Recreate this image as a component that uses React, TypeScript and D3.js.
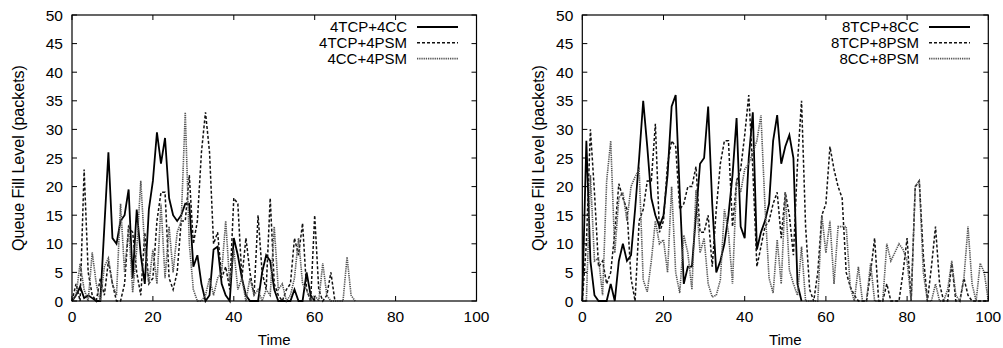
import React from 'react';
import * as d3 from 'd3';

const yTicks = [0, 5, 10, 15, 20, 25, 30, 35, 40, 45, 50];
const xTicks = [0, 20, 40, 60, 80, 100];
const yLabel = 'Queue Fill Level (packets)';
const xLabel = 'Time';

const leftNames = ['4TCP+4CC', '4TCP+4PSM', '4CC+4PSM'];
const rightNames = ['8TCP+8CC', '8TCP+8PSM', '8CC+8PSM'];

// one sample per time unit, starting at t = 0
const s4TcpCc = [0, 1, 2.5, 0.5, 1, 0.5, 0, 0, 13, 26, 11, 10, 14, 15, 19.5, 4, 16, 8, 3, 16, 21, 29.5, 24, 28.5, 18, 15, 14, 15, 17, 17, 6, 8, 3, 0, 1, 9, 9.5, 3, 1, 0, 11, 8, 4, 1, 0, 0, 0, 5, 8, 7, 2, 0, 0, 0, 0, 2, 0, 0, 5, 1, 0];
const s4TcpPsm = [0, 3, 0, 23, 5, 1, 0, 4, 1, 7, 3, 0, 0, 3, 13, 12, 5, 1, 12, 3, 4, 14, 19, 19, 4, 2, 5, 14, 14, 22, 10, 14, 26, 33, 26, 10, 12, 4, 6, 2, 18, 17, 4, 11, 5, 1, 15, 5, 2, 18, 3, 1, 0, 2, 3, 11, 8, 13.6, 2, 0, 15, 2, 0, 1, 5, 0];
const s4CcPsm = [0, 1, 6.5, 2, 0, 8.5, 3, 0, 6, 7.5, 3, 1, 17, 5, 13, 1.5, 9, 21, 9, 3, 9, 3, 17, 4, 13, 5, 12, 14, 33, 10, 2, 0, 0, 1, 4, 1, 4, 5, 14, 3, 9, 2, 4, 0, 4, 1, 2, 0, 2, 1, 13, 2, 3, 0, 1, 4, 11, 3, 2, 0, 1, 0, 6.6, 1, 0, 0, 0, 0, 7.7, 1, 0];

const s8TcpCc = [0, 28, 7, 1, 0, 0, 0, 3, 0, 7, 10, 7, 8, 16, 25, 35, 27, 18, 15, 13, 15, 22, 34, 36, 19, 3, 6, 6, 15, 24, 25, 34, 17, 5, 7, 10, 15, 22, 32, 13, 11, 25, 33, 9, 12, 14, 17, 28, 32.5, 24, 27, 29, 25, 3, 0];
const s8TcpPsm = [0, 10, 30, 19, 6, 7, 3, 5, 12, 20.5, 18, 16, 4, 0, 14, 16, 21, 21, 31, 12, 14, 24, 28, 27, 16, 17, 20, 20, 23.5, 12, 12, 15, 6, 16, 24, 28, 28, 13, 21, 23, 29, 36, 23, 6, 9.5, 13, 14, 17, 19, 11, 19, 15, 8, 24, 35, 13, 2, 0, 5, 15, 17, 27, 23, 20, 18, 5, 2.5, 1, 0, 0, 0, 5, 11, 0, 0, 3, 0, 0, 0, 5, 11, 0, 20, 21, 8, 0, 6, 13, 3, 0, 0, 6.6, 0, 0, 4, 1, 0, 0, 0, 0, 0];
const s8CcPsm = [0, 0, 22, 7, 7.5, 1, 21, 28, 8.4, 18, 19, 14, 20, 21.7, 23, 3.7, 1.6, 7, 14, 10, 10.7, 5, 20, 5, 1.4, 11.5, 8.4, 2, 19.4, 8.4, 11, 3, 0.7, 1, 3.7, 16, 12, 3, 21, 19, 23, 24, 26, 28, 32.5, 16.5, 4, 1.4, 10.7, 3, 19, 5.4, 3, 1, 9.5, 0, 0, 0, 0, 15, 8.4, 14, 3, 13, 13, 13, 2.5, 0, 6, 0, 0, 6.6, 0, 0, 0, 10, 7, 8.5, 10, 9, 7, 0, 20, 21, 5, 0, 0, 3, 0, 0, 2, 7, 1, 0, 4, 13, 3, 0, 6.6, 5, 0];

const styles = [
  { stroke: '#000', width: 1.8, dash: null as string | null },
  { stroke: '#111', width: 1.5, dash: '3,2' },
  { stroke: '#555', width: 1.6, dash: '1.3,0.9' },
];

const FONT = '"Liberation Sans", Arial, Helvetica, sans-serif';

function Panel({ x0, x1, series, names, legendTextX, yLabelX }: { x0: number; x1: number; series: number[][]; names: string[]; legendTextX: number; yLabelX: number }) {
  const top = 15;
  const bottom = 301;
  const x = d3.scaleLinear().domain([0, 100]).range([x0, x1]);
  const y = d3.scaleLinear().domain([0, 50]).range([bottom, top]);
  const line = d3
    .line<number>()
    .x((_, i) => x(i))
    .y((d) => y(d));
  const tl = 5;
  return (
    <g>
      {series.map((s, k) => (
        <path
          key={k}
          d={line(s) || ''}
          fill="none"
          stroke={styles[k].stroke}
          strokeWidth={styles[k].width}
          strokeDasharray={styles[k].dash || undefined}
          strokeLinejoin="miter"
        />
      ))}
      <rect x={x0} y={top} width={x1 - x0} height={bottom - top} fill="none" stroke="#000" strokeWidth={1.2} />
      {yTicks.map((t) => (
        <g key={'y' + t}>
          <line x1={x0} x2={x0 + tl} y1={y(t)} y2={y(t)} stroke="#000" />
          <line x1={x1} x2={x1 - tl} y1={y(t)} y2={y(t)} stroke="#000" />
          <text x={x0 - 9} y={y(t)} dy="0.36em" textAnchor="end" fontSize={15.5} fontFamily={FONT} fill="#000">
            {t}
          </text>
        </g>
      ))}
      {xTicks.map((t) => (
        <g key={'x' + t}>
          <line x1={x(t)} x2={x(t)} y1={bottom} y2={bottom - tl} stroke="#000" />
          <line x1={x(t)} x2={x(t)} y1={top} y2={top + tl} stroke="#000" />
          <text x={x(t)} y={322} textAnchor="middle" fontSize={15.5} fontFamily={FONT} fill="#000">
            {t}
          </text>
        </g>
      ))}
      <text x={(x0 + x1) / 2} y={345} textAnchor="middle" fontSize={15} fontFamily={FONT} fill="#000">
        {xLabel}
      </text>
      <text
        transform={`translate(${yLabelX},${(top + bottom) / 2}) rotate(-90)`}
        textAnchor="middle"
        dy="0.36em"
        fontSize={16}
        fontFamily={FONT}
        fill="#000"
      >
        {yLabel}
      </text>
      {names.map((n, k) => {
        const yy = 27 + k * 15.8;
        return (
          <g key={n}>
            <text x={legendTextX} y={yy} dy="0.36em" textAnchor="end" fontSize={15} fontFamily={FONT} fill="#000">
              {n}
            </text>
            <line
              x1={legendTextX + 10}
              x2={legendTextX + 51}
              y1={yy}
              y2={yy}
              stroke={styles[k].stroke}
              strokeWidth={styles[k].width}
              strokeDasharray={styles[k].dash || undefined}
            />
          </g>
        );
      })}
    </g>
  );
}

export default function App() {
  return (
    <svg width={1003} height={348} style={{ position: 'absolute', left: 0, top: 0, background: '#fff' }}>
      <rect width={1003} height={348} fill="#fff" />
      <Panel x0={72} x1={476.5} series={[s4TcpCc, s4TcpPsm, s4CcPsm]} names={leftNames} legendTextX={407} yLabelX={18} />
      <Panel x0={582.3} x1={988.3} series={[s8TcpCc, s8TcpPsm, s8CcPsm]} names={rightNames} legendTextX={919} yLabelX={538} />
    </svg>
  );
}
